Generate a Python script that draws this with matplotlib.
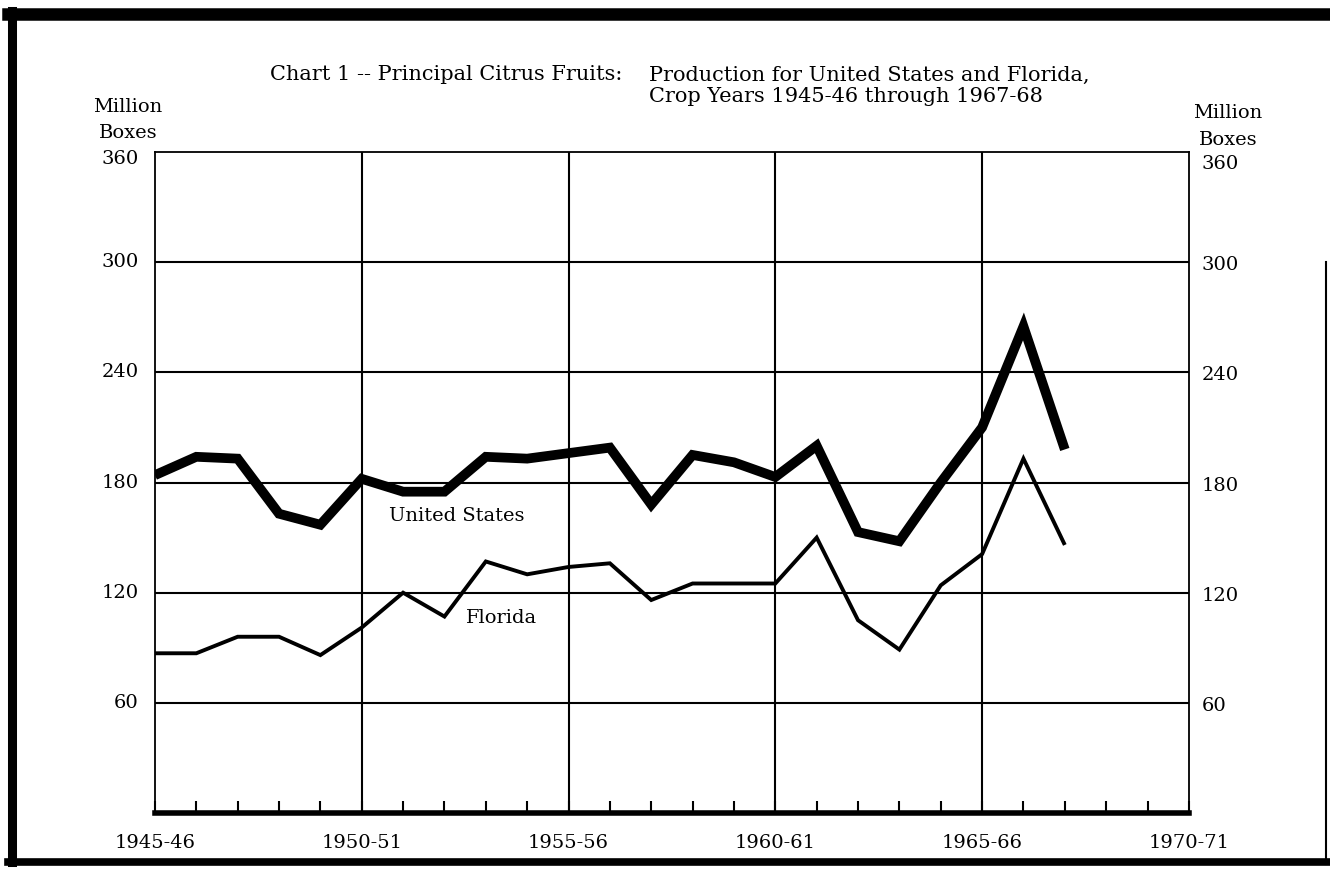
import matplotlib.pyplot as plt
from matplotlib.lines import Line2D
from matplotlib.transforms import offset_copy

# crop years, first year of each season (1945 = 1945-46)
years = list(range(1945, 1968))

# million boxes
us_prod = [184, 194, 193, 163, 157, 182, 175, 175, 194, 193, 196, 199,
           168, 195, 191, 183, 200, 153, 148, 180, 210, 265, 198]
fl_prod = [87, 87, 96, 96, 86, 101, 120, 107, 137, 130, 134, 136,
           116, 125, 125, 125, 150, 105, 89, 124, 141, 193, 146]

y_ticks = [60, 120, 180, 240, 300, 360]
x_label_years = [1945, 1950, 1955, 1960, 1965, 1970]
x_labels = ["1945-46", "1950-51", "1955-56", "1960-61", "1965-66", "1970-71"]

FS = 14
TITLE_FS = 15


def main():
    plt.rcParams['font.family'] = ['DejaVu Serif']

    fig = plt.figure(figsize=(13.3, 8.73), dpi=100)
    ax = fig.add_axes([0.1165, 0.0687, 0.7774, 0.7572])

    ax.set_xlim(1945, 1970)
    ax.set_ylim(0, 360)

    # grid: horizontal every 60, vertical every 5 years
    for v in y_ticks[:-1]:
        ax.axhline(v, color="black", lw=1.5, zorder=1)
    for yr in x_label_years[1:-1]:
        ax.axvline(yr, color="black", lw=1.5, zorder=1)

    # series
    ax.plot(years, us_prod, color="black", lw=7, solid_joinstyle="miter",
            solid_capstyle="butt", zorder=3)
    ax.plot(years, fl_prod, color="black", lw=2.8, solid_joinstyle="miter",
            solid_capstyle="butt", zorder=3)

    ax.text(1950.66, 162, "United States", fontsize=FS, va="center", ha="left")
    ax.text(1952.52, 106, "Florida", fontsize=FS, va="center", ha="left")

    # spines
    for side in ["left", "right", "top"]:
        ax.spines[side].set_linewidth(1.3)
    ax.spines["bottom"].set_linewidth(4)

    # x ticks every year, labels every 5
    ax.set_xticks(range(1945, 1971))
    ax.set_xticklabels([x_labels[x_label_years.index(y)] if y in x_label_years else ""
                        for y in range(1945, 1971)])
    ax.tick_params(axis="x", direction="in", length=9, width=1.5, pad=15,
                   labelsize=FS)

    # y labels on both sides drawn as text (top one sits a bit lower)
    ax.set_yticks([])
    ytrans = ax.get_yaxis_transform()
    for v in y_ticks:
        dy_left = -7 if v == 360 else 0
        dy_right = -12 if v == 360 else -3
        ax.text(-0.0155, v, str(v), fontsize=FS, ha="right", va="center",
                transform=offset_copy(ytrans, fig=fig, y=dy_left, units="dots"))
        ax.text(1.0126, v, str(v), fontsize=FS, ha="left", va="center",
                transform=offset_copy(ytrans, fig=fig, y=dy_right, units="dots"))

    # unit labels
    fig.text(0.0962, 0.8774, "Million", fontsize=FS, ha="center", va="center")
    fig.text(0.0962, 0.8477, "Boxes", fontsize=FS, ha="center", va="center")
    fig.text(0.9233, 0.8706, "Million", fontsize=FS, ha="center", va="center")
    fig.text(0.9233, 0.8396, "Boxes", fontsize=FS, ha="center", va="center")

    # title
    fig.text(0.203, 0.9141, "Chart 1 -- Principal Citrus Fruits:", fontsize=TITLE_FS,
             va="center", ha="left")
    fig.text(0.488, 0.9141, "Production for United States and Florida,",
             fontsize=TITLE_FS, va="center", ha="left")
    fig.text(0.488, 0.890, "Crop Years 1945-46 through 1967-68",
             fontsize=TITLE_FS, va="center", ha="left")

    # outer page frame
    fig.add_artist(Line2D([0.006, 1.0], [0.984, 0.984], color="black", lw=9,
                          transform=fig.transFigure))
    fig.add_artist(Line2D([0.009, 0.009], [0.987, 0.013], color="black", lw=6.5,
                          transform=fig.transFigure))
    fig.add_artist(Line2D([0.006, 0.998], [0.013, 0.013], color="black", lw=5.5,
                          transform=fig.transFigure))
    fig.add_artist(Line2D([0.997, 0.997], [0.70, 0.010], color="black", lw=1.5,
                          transform=fig.transFigure))

    fig.savefig("out.png", dpi=100)


if __name__ == "__main__":
    main()
